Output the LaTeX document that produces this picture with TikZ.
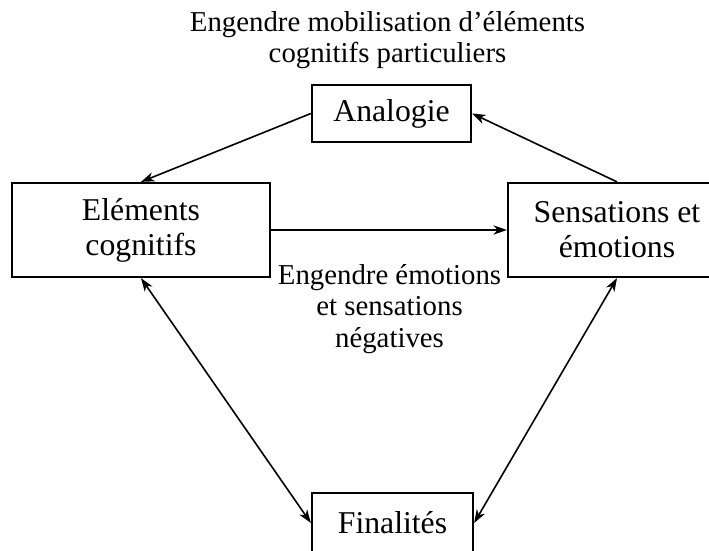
\documentclass[tikz,border=0pt]{standalone}
\usepackage{fontspec}
\setmainfont{Liberation Serif}
\usetikzlibrary{arrows.meta}
\newcommand{\txtboite}{\fontsize{23.8}{26.3}\selectfont}
\newcommand{\txtlegende}{\fontsize{21.6}{23.6}\selectfont}
\tikzset{boite/.style={draw,line width=1.7pt,align=center,inner sep=0,font=\txtboite},
  fleche/.style={line width=1.2pt,-{Stealth[length=10pt,width=7pt,inset=3pt]}},
  doublefleche/.style={line width=1.2pt,
    {Stealth[length=10pt,width=7pt,inset=3pt]}-{Stealth[length=10pt,width=7pt,inset=3pt]}},
  legende/.style={align=center,inner sep=0,font=\txtlegende}}
\begin{document}
\begin{tikzpicture}[x=0.75pt,y=0.75pt]
\useasboundingbox (0,0) rectangle (709,550);
\node[boite,minimum width=119.25pt,minimum height=42.75pt] (analogie) at (391.5,436.5) {Analogie};
\node[boite,minimum width=193.5pt,minimum height=70.5pt] (elements) at (141,320) {Eléments\\cognitifs};
\node[boite,minimum width=163.5pt,minimum height=70.5pt] (sensations) at (617,320) {Sensations et\\émotions};
\node[boite,minimum width=120.75pt,minimum height=45pt] (finalites) at (392.5,27) {Finalités};
\node[legende,anchor=base] (mobilisation) at (387.5,487) {Engendre mobilisation d’éléments\\cognitifs particuliers};
\node[legende,anchor=base] (negatives) at (389.5,203) {Engendre émotions\\et sensations\\négatives};
\draw[fleche] (analogie.west) -- (elements.north);
\draw[fleche] (sensations.north) -- (analogie.east);
\draw[fleche] (elements.east) -- (sensations.west);
\draw[doublefleche] (elements.south) -- (finalites.west);
\draw[doublefleche] (sensations.south) -- (finalites.east);
\end{tikzpicture}
\end{document}
